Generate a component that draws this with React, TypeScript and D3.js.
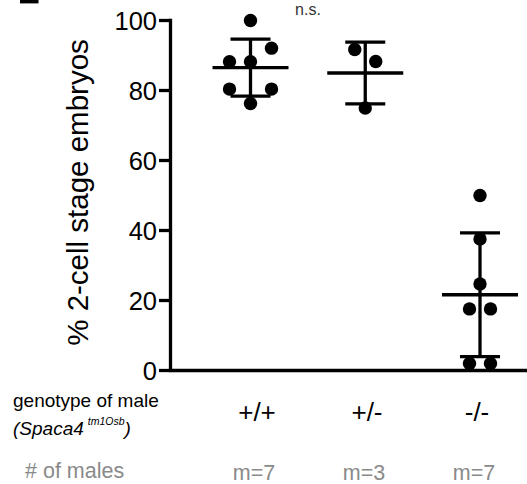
import React from 'react';
import * as d3 from 'd3';

// Genotype groups and per-male percentages of 2-cell stage embryos
const genotypes = ['+/+', '+/-', '-/-'];
const maleCounts = ['m=7', 'm=3', 'm=7'];
const wildType = [100, 88.2, 88.2, 92.1, 80.4, 76.3, 80.4];
const heterozygous = [91.7, 88.3, 75.0];
const knockout = [50, 37.6, 24.7, 17.6, 17.6, 2.0, 2.0];
const yTicks = [0, 20, 40, 60, 80, 100];
const significance = 'n.s.';

const W = 527;
const H = 484;
const FONT = '"Liberation Sans", Arial, Helvetica, sans-serif';

const DOT_R = 6.7;
const SLOT = 21;
const STROKE = 3.3;
const MEAN_W = 76;
const CAP_W = 40;

type Dot = { v: number; dx: number };

// Bin close values into rows and spread each row around the group centre
function scatterLayout(values: number[]): Dot[] {
  const order = values.map((v, i) => i).sort((a, b) => values[b] - values[a]);
  const bins: number[][] = [];
  let top = Infinity;
  order.forEach((i) => {
    if (top - values[i] > 4.5 || bins.length === 0) {
      bins.push([i]);
      top = values[i];
    } else {
      bins[bins.length - 1].push(i);
    }
  });
  const out: Dot[] = new Array(values.length);
  bins.forEach((bin) => {
    const members = bin.slice().sort((a, b) => a - b);
    const n = members.length;
    members.forEach((idx, k) => {
      out[idx] = { v: values[idx], dx: (k - (n - 1) / 2) * SLOT };
    });
  });
  return out;
}

export default function App() {
  const groups = [wildType, heterozygous, knockout];

  const y = d3.scaleLinear().domain([0, 100]).range([370.5, 20.5]);
  const x = d3.scalePoint<string>().domain(genotypes).range([250.5, 480]);
  const xLabel = d3.scalePoint<string>().domain(genotypes).range([257, 477]);

  const axisX = 170.5;

  return (
    <svg
      width={W}
      height={H}
      style={{ position: 'absolute', left: 0, top: 0, background: '#fff' }}
      fontFamily={FONT}
    >
      <rect x={0} y={0} width={W} height={H} fill="#fff" />
      {/* clipped panel letter */}
      <rect x={20} y={0} width={18.5} height={3.4} fill="#000" />

      {/* y axis */}
      <line x1={axisX} x2={axisX} y1={y(100) - STROKE / 2} y2={y(0)} stroke="#000" strokeWidth={STROKE} />
      <line x1={axisX - STROKE / 2} x2={W} y1={y(0)} y2={y(0)} stroke="#000" strokeWidth={STROKE} />
      {yTicks.map((t) => (
        <g key={t}>
          <line x1={159} x2={axisX} y1={y(t)} y2={y(t)} stroke="#000" strokeWidth={STROKE} />
          <text x={157} y={y(t)} dy="0.36em" textAnchor="end" fontSize={25.5} fill="#000">
            {t}
          </text>
        </g>
      ))}
      <text
        transform={`translate(87.5,192.5) rotate(-90)`}
        textAnchor="middle"
        fontSize={29.5}
        fill="#000"
      >
        % 2-cell stage embryos
      </text>

      {/* groups */}
      {groups.map((vals, gi) => {
        const cx = x(genotypes[gi]) as number;
        const m = d3.mean(vals) as number;
        const sd = d3.deviation(vals) as number;
        const dots = scatterLayout(vals);
        return (
          <g key={gi}>
            {dots.map((d, i) => (
              <circle key={i} cx={cx + d.dx} cy={y(d.v)} r={DOT_R} fill="#000" />
            ))}
            <line x1={cx} x2={cx} y1={y(m + sd)} y2={y(m - sd)} stroke="#000" strokeWidth={STROKE} />
            <line x1={cx - CAP_W / 2} x2={cx + CAP_W / 2} y1={y(m + sd)} y2={y(m + sd)} stroke="#000" strokeWidth={STROKE} />
            <line x1={cx - CAP_W / 2} x2={cx + CAP_W / 2} y1={y(m - sd)} y2={y(m - sd)} stroke="#000" strokeWidth={STROKE} />
            <line x1={cx - MEAN_W / 2} x2={cx + MEAN_W / 2} y1={y(m)} y2={y(m)} stroke="#000" strokeWidth={STROKE} />
          </g>
        );
      })}

      <text x={308} y={14.5} textAnchor="middle" fontSize={16} fill="#333">
        {significance}
      </text>

      {/* category annotations */}
      <text x={13} y={406.7} fontSize={19} fill="#000">genotype of male</text>
      <text x={13} y={435} fontSize={19} fill="#000" fontStyle="italic">
        (Spaca4
        <tspan fontSize={10.5} dy={-10} dx={4}>tm1Osb</tspan>
        <tspan dy={10}>)</tspan>
      </text>
      {genotypes.map((g) => (
        <text key={g} x={xLabel(g)} y={420.5} textAnchor="middle" fontSize={26} fill="#000">
          {g}
        </text>
      ))}

      <text x={25} y={478} fontSize={21.5} fill="#8a8a8a"># of males</text>
      {genotypes.map((g, i) => (
        <text key={g} x={xLabel(g) as number - 3} y={480} textAnchor="middle" fontSize={21.5} fill="#8a8a8a">
          {maleCounts[i]}
        </text>
      ))}
    </svg>
  );
}
